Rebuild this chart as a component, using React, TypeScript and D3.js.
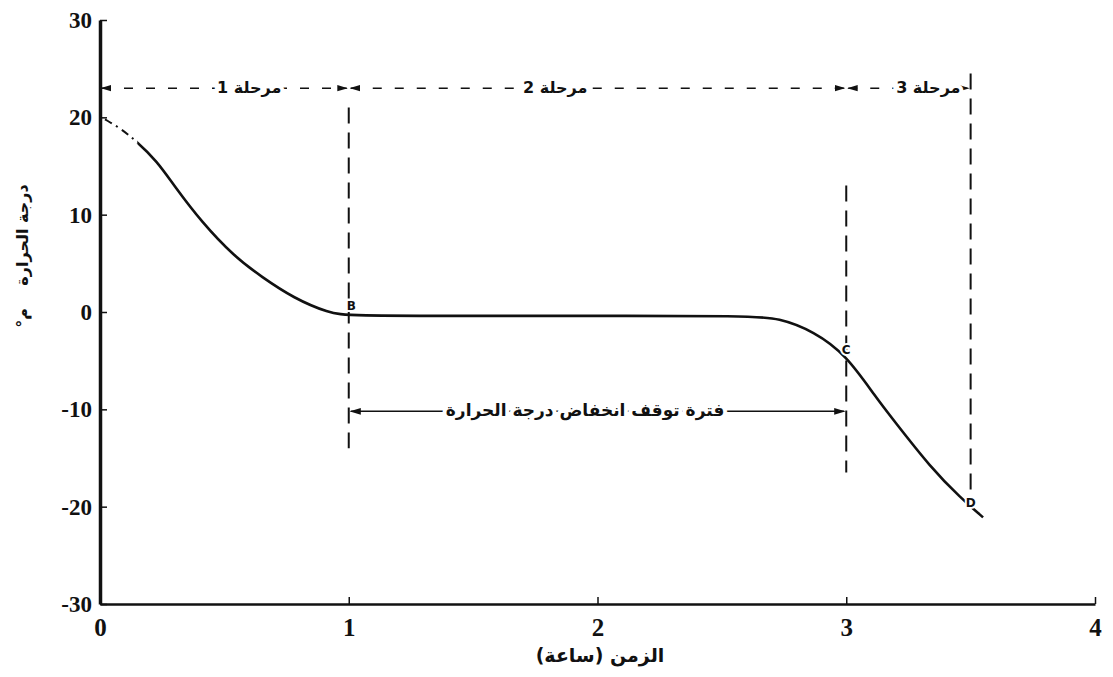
import React, { useEffect, useRef } from "react";
import * as d3 from "d3";

// curve (time in hours, temperature in °C)
const timeHours = [0.02, 0.08, 0.14, 0.23, 0.3, 0.41, 0.54, 0.65, 0.78, 0.92, 1.0, 1.5, 2.0, 2.6, 2.73, 2.87, 3.0, 3.12, 3.19, 3.34, 3.46, 3.55];
const temps = [19.8, 18.9, 17.7, 15.5, 12.9, 9.2, 5.7, 3.6, 1.4, -0.1, -0.4, -0.4, -0.4, -0.4, -0.6, -2.0, -4.4, -8.8, -11.1, -16.0, -19.1, -21.1];
const dashedUntilHour = 0.15; // start of the curve is drawn dash-dot

const xTicks = [0, 1, 2, 3, 4];
const yTicks = [-30, -20, -10, 0, 10, 20, 30];

const stageBounds = [0, 1, 3, 3.5];
const stageLabels = ["مرحلة 1", "مرحلة 2", "مرحلة 3"];
const stageLabelAt = [0.6, 1.83, 3.33];
const stageLevel = 23;

const markerTimes = [1, 3, 3.5];
const markerTop = [21, 13, 24.5];
const markerBottom = [-14, -16.5, -19.5];

const pointNames = ["B", "C", "D"];
const pointTimes = [1.01, 3.0, 3.5];
const pointTemps = [0.6, -3.9, -19.6];

const pauseStart = 1;
const pauseEnd = 3;
const pauseLabelAt = 1.95;
const pauseLevel = -10.2;
const pauseLabel = "فترة توقف انخفاض درجة الحرارة";

const xLabel = "الزمن (ساعة)";
const yLabel = "درجة الحرارة";
const yUnit = "°م";

const W = 1113;
const H = 677;
const arabicFont = "'DejaVu Sans', sans-serif";
const numFont = "'Liberation Serif', 'DejaVu Serif', serif";

export default function App() {
  const xAxisRef = useRef<SVGGElement>(null);
  const yAxisRef = useRef<SVGGElement>(null);

  const x = d3.scaleLinear().domain([0, 4]).range([100, 1095]);
  const y = d3.scaleLinear().domain([-30, 30]).range([604, 20]);

  useEffect(() => {
    const fmt = (d: d3.NumberValue) => String(d);
    const xa = d3.axisBottom(x).tickValues(xTicks).tickSizeInner(-7).tickSizeOuter(0).tickPadding(14).tickFormat(fmt);
    const ya = d3.axisLeft(y).tickValues(yTicks).tickSizeInner(-7).tickSizeOuter(0).tickPadding(8).tickFormat(fmt);
    const gx = d3.select(xAxisRef.current!).call(xa);
    const gy = d3.select(yAxisRef.current!).call(ya);
    gx.select(".domain").attr("stroke", "#111").attr("stroke-width", 2.5);
    gy.select(".domain").attr("stroke", "#111").attr("stroke-width", 3.5);
    [gx, gy].forEach((g) => {
      g.selectAll(".tick line").attr("stroke", "#111").attr("stroke-width", 1.5);
      g.selectAll(".tick text")
        .attr("fill", "#111")
        .style("font-family", numFont)
        .style("font-weight", "bold");
    });
    gx.selectAll(".tick text").style("font-size", "25px");
    gy.selectAll(".tick text").style("font-size", "23px");
  }, []);

  const pts = timeHours.map((t, i) => [t, temps[i]] as [number, number]);
  const line = d3
    .line<[number, number]>()
    .x((d) => x(d[0]))
    .y((d) => y(d[1]))
    .curve(d3.curveBasis);
  const curvePath = line(pts)!;
  const splitX = x(dashedUntilHour);

  const arabicText = {
    fontFamily: arabicFont,
    fontWeight: "bold" as const,
    fill: "#111",
  };

  return (
    <svg width={W} height={H} style={{ position: "absolute", left: 0, top: 0, background: "#fff" }}>
      <defs>
        <marker id="arr" viewBox="0 0 10 10" refX="9" refY="5" markerWidth="7" markerHeight="7" orient="auto-start-reverse">
          <path d="M0,2 L10,5 L0,8 z" fill="#111" />
        </marker>
        <clipPath id="clipStart">
          <rect x={0} y={0} width={splitX} height={H} />
        </clipPath>
        <clipPath id="clipRest">
          <rect x={splitX} y={0} width={W - splitX} height={H} />
        </clipPath>
      </defs>

      <g ref={yAxisRef} transform={`translate(${x(0)},0)`} />
      <g ref={xAxisRef} transform={`translate(0,${y(-30)})`} />

      {/* stage arrows along the top */}
      {stageLabels.map((lab, i) => {
        const x0 = x(stageBounds[i]);
        const x1 = x(stageBounds[i + 1]);
        return (
          <g key={lab}>
            <line
              x1={x0 + 2}
              x2={x1 - 2}
              y1={y(stageLevel)}
              y2={y(stageLevel)}
              stroke="#111"
              strokeWidth={1.5}
              strokeDasharray="9 13"
              markerStart="url(#arr)"
              markerEnd="url(#arr)"
            />
            <text
              {...arabicText}
              x={x(stageLabelAt[i])}
              y={y(stageLevel)}
              dy="0.3em"
              textAnchor="middle"
              fontSize={16}
              stroke="#fff"
              strokeWidth={8}
              paintOrder="stroke"
            >
              {lab}
            </text>
          </g>
        );
      })}

      {/* vertical dashed markers */}
      {markerTimes.map((t, i) => (
        <line
          key={t}
          x1={x(t)}
          x2={x(t)}
          y1={y(markerTop[i])}
          y2={y(markerBottom[i])}
          stroke="#111"
          strokeWidth={2}
          strokeDasharray="16 9"
        />
      ))}

      {/* cooling curve */}
      <path d={curvePath} clipPath="url(#clipStart)" fill="none" stroke="#111" strokeWidth={2} strokeDasharray="8 5 2 5" />
      <path d={curvePath} clipPath="url(#clipRest)" fill="none" stroke="#111" strokeWidth={2.6} />

      {/* pause period annotation */}
      <line
        x1={x(pauseStart) + 2}
        x2={x(pauseEnd) - 2}
        y1={y(pauseLevel)}
        y2={y(pauseLevel)}
        stroke="#111"
        strokeWidth={1.6}
        markerStart="url(#arr)"
        markerEnd="url(#arr)"
      />
      <text
        {...arabicText}
        x={x(pauseLabelAt)}
        y={y(pauseLevel)}
        dy="0.3em"
        textAnchor="middle"
        fontSize={17}
        stroke="#fff"
        strokeWidth={8}
        paintOrder="stroke"
      >
        {pauseLabel}
      </text>

      {/* point labels */}
      {pointNames.map((n, i) => (
        <text
          key={n}
          x={x(pointTimes[i])}
          y={y(pointTemps[i])}
          dy="0.35em"
          textAnchor="middle"
          fontFamily="'DejaVu Sans', sans-serif"
          fontWeight="bold"
          fontSize={12}
          fill="#111"
          stroke="#fff"
          strokeWidth={4}
          paintOrder="stroke"
        >
          {n}
        </text>
      ))}

      {/* axis titles */}
      <text {...arabicText} x={600} y={662} textAnchor="middle" fontSize={19}>
        {xLabel}
      </text>
      <text {...arabicText} transform="translate(22,235) rotate(-90)" textAnchor="middle" dy="0.35em" fontSize={16}>
        {yLabel}
      </text>
      <text {...arabicText} transform="translate(22,318) rotate(-90)" textAnchor="middle" dy="0.35em" fontSize={16}>
        {yUnit}
      </text>
    </svg>
  );
}
